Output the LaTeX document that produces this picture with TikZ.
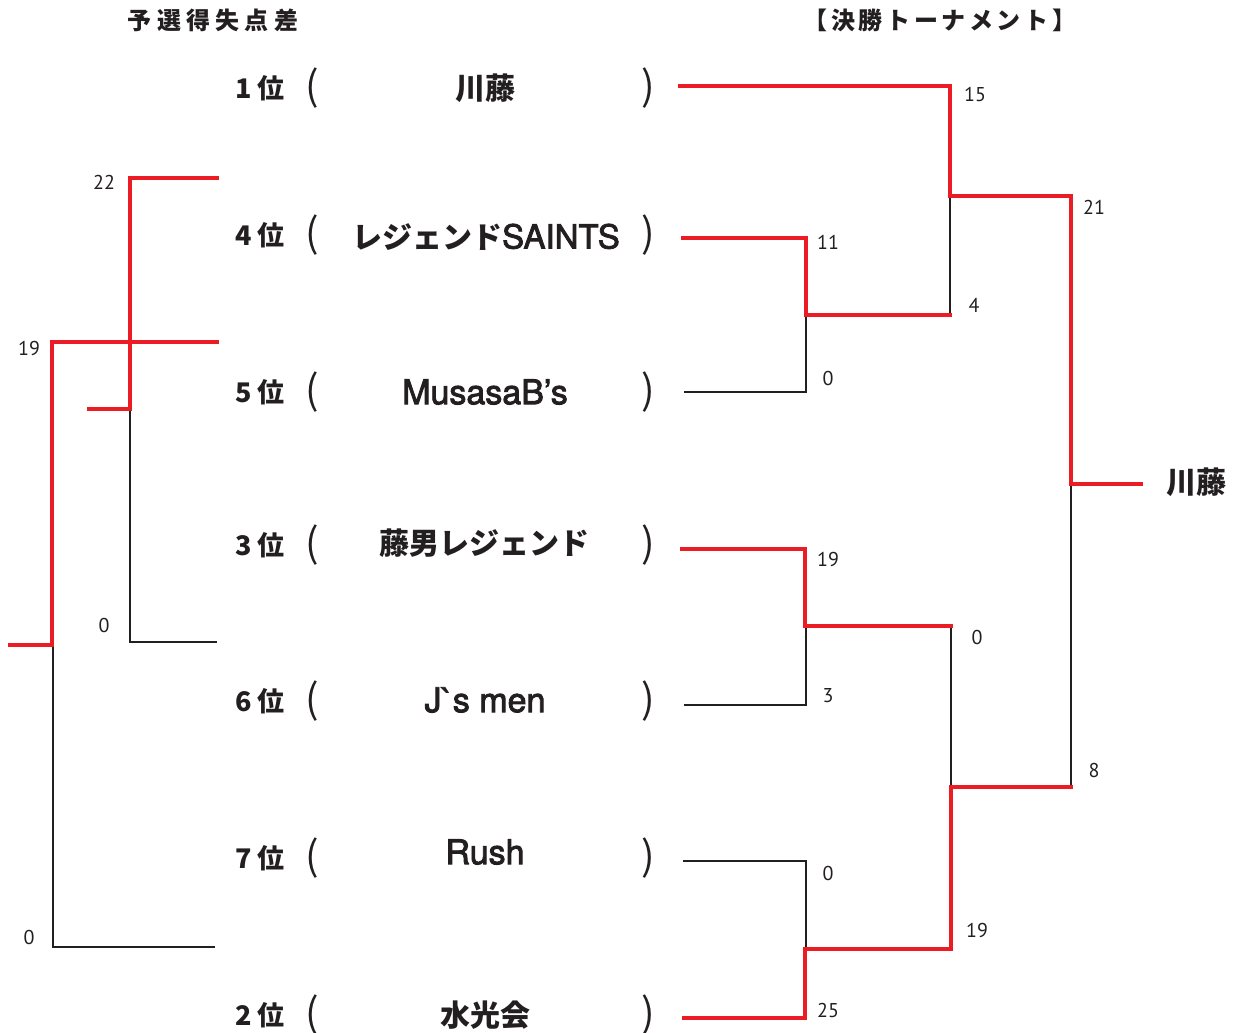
\documentclass[tikz,border=0pt]{standalone}
\usepackage{fontspec}
\newfontfamily\jp{Noto Sans CJK JP}
\newfontfamily\jph[LetterSpace=22]{Noto Sans CJK JP}
\newfontfamily\jphb[LetterSpace=15]{Noto Sans CJK JP}
\newfontfamily\num{PT Sans}
\newfontfamily\hv[FakeBold=2.5]{TeX Gyre Heros}
\definecolor{wred}{HTML}{EC1C24}
\definecolor{ink}{HTML}{231F20}
\begin{document}
\begin{tikzpicture}[x=1pt,y=-1pt,
  win/.style={draw=wred,line width=4pt,line join=miter,line cap=rect},
  lose/.style={draw=ink,line width=2pt,line join=miter},
  score/.style={font=\num\fontsize{20}{20}\selectfont,text=ink,inner sep=0pt},
  rank/.style={font=\jp\bfseries\fontsize{27}{27}\selectfont,text=ink,inner sep=0pt},
  paren/.style={font=\jp\fontsize{40}{40}\selectfont,text=ink,inner sep=0pt},
  team/.style={font=\jp\bfseries\fontsize{30}{30}\selectfont,text=ink,inner sep=0pt},
  lat/.style={font=\hv\fontsize{34}{34}\selectfont,text=ink,inner sep=0pt},
  head/.style={font=\jph\bfseries\fontsize{24}{24}\selectfont,text=ink,inner sep=0pt}]
\useasboundingbox (0,0) rectangle (1235,1033);

% headers
\node[head] (h1) at (213,20) {予選得失点差};
\node[head,font=\jphb\bfseries\fontsize{24}{24}\selectfont] (h2) at (940,20) {【決勝トーナメント】};

% rows
\foreach \r/\y/\n in {1/88/r1,4/235/r4,5/392/r5,3/545/r3,6/701/r6,7/858/r7,2/1015/r2}{
  \node[rank] (\n) at (260,\y) {\r\hspace{5pt}位};
  \node[paren] (\n o) at (312,\y) {(};
  \node[paren] (\n c) at (648,\y) {)};
}
\node[team] (t1) at (485,88) {川藤};
\node[team] (t4) at (486,237) {レジェンド{\hv\mdseries\fontsize{33}{33}\selectfont SAINTS}};
\node[lat] (t5) at (485,392) {MusasaB’s};
\node[team] (t3) at (484,543) {藤男レジェンド};
\node[lat] (t6) at (485,700) {J`s men};
\node[lat] (t7) at (485,852) {Rush};
\node[team] (t2) at (485,1015) {水光会};

% left bracket (preliminary)
\draw[lose] (130,409) -- (130,642) -- (217,642);
\draw[lose] (53,645) -- (53,947) -- (215,947);
\draw[win] (217,178) -- (130,178) -- (130,409) -- (89,409);
\draw[win] (217,342) -- (52,342) -- (52,645) -- (10,645);
\node[score] (s22) at (104,182) {22};
\node[score] (s19a) at (29,348) {19};
\node[score] (s0a) at (104,625) {0};
\node[score] (s0b) at (29,937) {0};

% right bracket (final tournament)
\draw[lose] (950,196) -- (950,315);
\draw[lose] (806,315) -- (806,392) -- (684,392);
\draw[lose] (806,626) -- (806,705) -- (684,705);
\draw[lose] (951,626) -- (951,787);
\draw[lose] (1071,484) -- (1071,787);
\draw[lose] (683,861) -- (806,861) -- (806,949);
\draw[win] (680,86) -- (950,86) -- (950,196) -- (1071,196) -- (1071,484) -- (1141,484);
\draw[win] (683,238) -- (806,238) -- (806,315) -- (950,315);
\draw[win] (682,549) -- (805,549) -- (805,626) -- (951,626);
\draw[win] (684,1018) -- (805,1018) -- (805,949) -- (951,949) -- (951,787) -- (1071,787);

\node[score] (f15) at (975,95) {15};
\node[score] (f21) at (1094,207) {21};
\node[score] (f11) at (828,242) {11};
\node[score] (f4) at (974,305) {4};
\node[score] (f0a) at (828,378) {0};
\node[score] (f19a) at (828,559) {19};
\node[score] (f0b) at (977,637) {0};
\node[score] (f3) at (828,696) {3};
\node[score] (f8) at (1094,770) {8};
\node[score] (f0c) at (828,873) {0};
\node[score] (f19b) at (977,930) {19};
\node[score] (f25) at (828,1010) {25};

\node[team] (champ) at (1196,482) {川藤};
\end{tikzpicture}
\end{document}
